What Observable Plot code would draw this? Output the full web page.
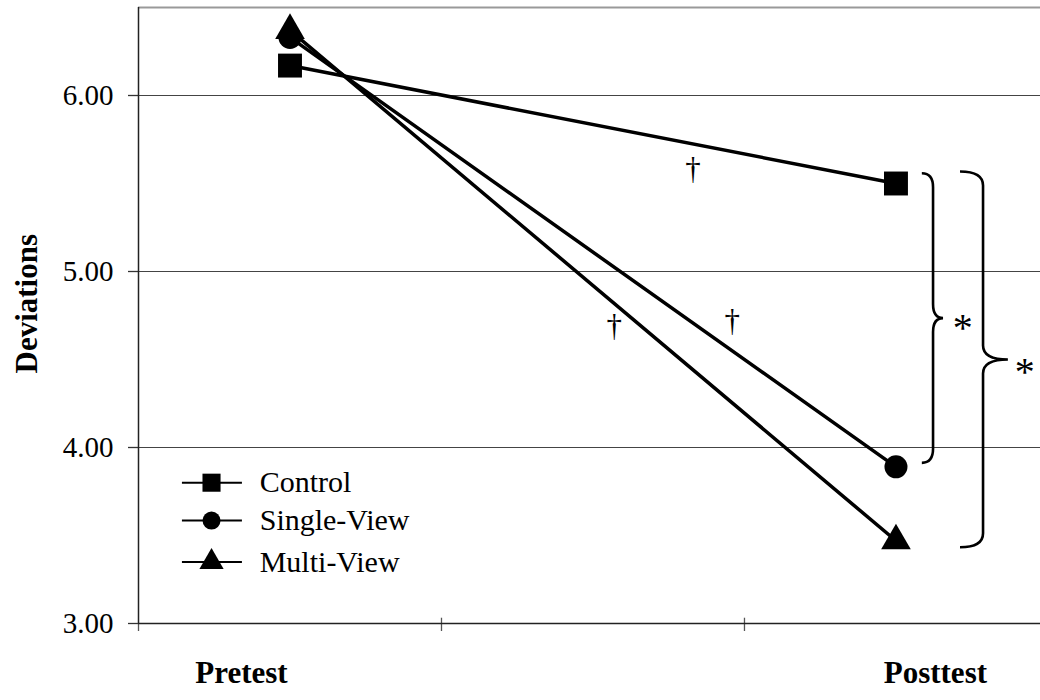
<!DOCTYPE html>
<html>
<head>
<meta charset="utf-8">
<script src="https://cdn.jsdelivr.net/npm/d3@7"></script>
<script src="https://cdn.jsdelivr.net/npm/@observablehq/plot@0.6"></script>
<style>
  html, body { margin: 0; padding: 0; background: #fff; }
  #chart { width: 1040px; height: 700px; }
</style>
</head>
<body>
<div id="chart"></div>
<script>
// ---- data ----
const phases = ["Pretest", "Posttest"];
const phaseX = [0.5, 2.5];            // data positions of the two measurements
const phaseLabelX = [0.34, 2.63];      // label positions on the x scale
const groups = ["Control", "Single-View", "Multi-View"];
const symbols = ["square", "circle", "triangle"];
const control = [6.17, 5.50];
const singleView = [6.33, 3.89];
const multiView = [6.37, 3.47];
const yTicks = [3, 4, 5, 6];
const gridValues = [4, 5, 6];
const xTicks = [0, 1, 2];

// significance markers
const daggers = [
  {x: 1.83, y: 5.58},
  {x: 1.57, y: 4.69},
  {x: 1.96, y: 4.72}
];
const braces = [
  {top: 5.555, bottom: 3.91, endX: 2.587, spineX: 2.624, tipX: 2.657},
  {top: 5.565, bottom: 3.43, endX: 2.713, spineX: 2.789, tipX: 2.871}
];
const stars = [
  {x: 2.72, y: 4.68},
  {x: 2.925, y: 4.43}
];

// legend rows (data units)
const legendY = [3.80, 3.585, 3.35];
const legendLineX = [0.145, 0.343];
const legendSymX = 0.241;
const legendTextX = 0.40;

// ---- tables ----
const seriesValues = [control, singleView, multiView];
const rows = [];
groups.forEach((g, gi) => {
  phases.forEach((p, pi) => {
    rows.push({group: g, symbol: symbols[gi], phase: p, x: phaseX[pi], y: seriesValues[gi][pi], order: gi});
  });
});
const drawOrder = [2, 1, 0];
const dataR = {square: 13.5, circle: 11.5, triangle: 11};
const legendR = {square: 10.2, circle: 9, triangle: 9};

const legendRows = groups.map((g, i) => ({group: g, symbol: symbols[i], y: legendY[i]}));

function braceMark(index, scales) {
  const g = d3.create("svg:g");
  for (const b of braces) {
    const xe = scales.x(b.endX), xs = scales.x(b.spineX), xt = scales.x(b.tipX);
    const yt = scales.y(b.top), yb = scales.y(b.bottom);
    const ym = (yt + yb) / 2;
    const r = 14;
    const d = `M${xe},${yt} Q${xs},${yt} ${xs},${yt + r} L${xs},${ym - r} Q${xs},${ym} ${xt},${ym} ` +
              `Q${xs},${ym} ${xs},${ym + r} L${xs},${yb - r} Q${xs},${yb} ${xe},${yb}`;
    g.append("path").attr("d", d).attr("fill", "none").attr("stroke", "#000").attr("stroke-width", 2.6);
  }
  return g.node();
}

const marks = [
  // grid & frame
  Plot.ruleY(gridValues, {stroke: "#444", strokeWidth: 1.2}),
  Plot.ruleY([6.5], {stroke: "#999", strokeWidth: 2}),
  Plot.axisY(yTicks, {label: null, tickSize: 10, tickPadding: 15, tickFormat: d3.format(".2f"), stroke: "#333", strokeWidth: 1.3, fill: "#000", fontSize: 29}),
  Plot.axisX(xTicks, {label: null, tickSize: 8, tickFormat: () => "", stroke: "#555", strokeWidth: 1.3}),
  Plot.ruleX(xTicks.slice(1), {y1: 3, y2: 3.03, stroke: "#555", strokeWidth: 1.3}),
  Plot.ruleX([0], {stroke: "#222", strokeWidth: 1.5}),
  Plot.ruleY([3], {stroke: "#222", strokeWidth: 1.5}),
  // axis labels
  Plot.text(phases, {x: (d, i) => phaseLabelX[i], frameAnchor: "bottom", dy: 59, text: d => d, fontWeight: "bold", fontSize: 31, fill: "#000"}),
  Plot.text(["Deviations"], {frameAnchor: "left", dx: -111, dy: 58, rotate: -90, text: d => d, fontWeight: "bold", fontSize: 31, fill: "#000"}),
  // series lines
  ...drawOrder.map(gi => Plot.line(rows.filter(r => r.order === gi), {x: "x", y: "y", stroke: "#000", strokeWidth: 3.5})),
  // series markers
  ...drawOrder.map(gi => Plot.dot(rows.filter(r => r.order === gi), {x: "x", y: "y", symbol: symbols[gi], r: dataR[symbols[gi]], fill: "#000", stroke: "none"})),
  // annotations
  Plot.text(daggers, {x: "x", y: "y", text: () => "†", fontSize: 31, fill: "#000"}),
  braceMark,
  Plot.text(stars, {x: "x", y: "y", text: () => "*", fontSize: 40, fill: "#000"}),
  // legend
  Plot.ruleY(legendRows, {y: "y", x1: legendLineX[0], x2: legendLineX[1], stroke: "#000", strokeWidth: 2}),
  ...legendRows.map(row => Plot.dot([row], {x: legendSymX, y: "y", symbol: row.symbol, r: legendR[row.symbol], fill: "#000", stroke: "none"})),
  Plot.text(legendRows, {x: legendTextX, y: "y", text: "group", textAnchor: "start", fontSize: 30, fill: "#000"})
];

const chart = Plot.plot({
  width: 1040,
  height: 700,
  marginLeft: 138,
  marginRight: 0,
  marginTop: 7,
  marginBottom: 77,
  x: {domain: [0, 2.977], axis: null},
  y: {domain: [3, 6.5], axis: null},
  style: {fontFamily: "'Liberation Serif', 'Times New Roman', serif", fontSize: "29px", background: "#fff", color: "#000", overflow: "visible"},
  marks
});
document.getElementById("chart").appendChild(chart);
</script>
</body>
</html>
